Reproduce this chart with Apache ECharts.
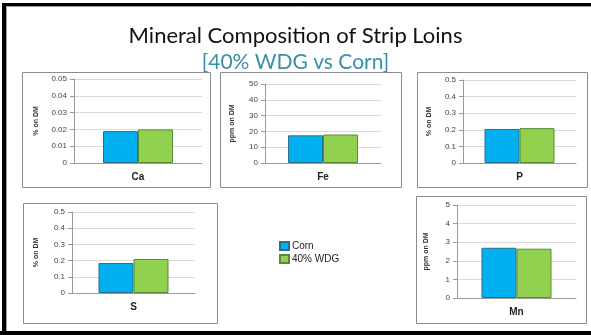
<!DOCTYPE html>
<html>
<head>
<meta charset="utf-8">
<script src="https://cdn.jsdelivr.net/npm/echarts@6/dist/echarts.min.js"></script>
<style>
  html, body { margin: 0; padding: 0; background: #fff; }
  #chart { width: 591px; height: 335px; }
</style>
</head>
<body>
<div id="chart"></div>
<script>
// Mineral content of strip loins, corn vs 40% wet distillers grains
const minerals   = ['Ca', 'Fe', 'P', 'S', 'Mn'];
const cornValues = [0.019, 17.5, 0.205, 0.185, 2.7];
const wdgValues  = [0.020, 18.0, 0.21, 0.21, 2.65];
const axisMax    = [0.05, 50, 0.5, 0.5, 5];
const axisStep   = [0.01, 10, 0.1, 0.1, 1];
const unitLabels = ['% on DM', 'ppm on DM', '% on DM', '% on DM', 'ppm on DM'];
const seriesNames = ['Corn', '40% WDG'];

// Panel frames and plot areas (pixels)
const layout = [
  { box: [22, 72, 188, 115],  grid: [74, 79, 128, 84],  nameGap: 34 },
  { box: [220, 72, 181, 115], grid: [265, 84, 116, 79], nameGap: 29 },
  { box: [417, 72, 170, 115], grid: [463, 80, 113, 83], nameGap: 30 },
  { box: [23, 203, 194, 120], grid: [72, 212, 123, 81], nameGap: 32 },
  { box: [416, 196, 170, 127], grid: [457, 205, 119, 93], nameGap: 27 }
];

const BLUE = '#00B0F0', GREEN = '#92D050';
const FONT = 'Liberation Sans, Arial, sans-serif';

const grids = [], xAxes = [], yAxes = [], series = [], graphics = [];

// slide frame
graphics.push(
  { type: 'rect', shape: { x: 2, y: 3, width: 589, height: 3 }, style: { fill: '#000' }, silent: true },
  { type: 'rect', shape: { x: 2, y: 3, width: 4, height: 332 }, style: { fill: '#000' }, silent: true },
  { type: 'rect', shape: { x: 0, y: 331, width: 591, height: 4 }, style: { fill: '#000' }, silent: true },
  { type: 'line', shape: { x1: 6, y1: 6.5, x2: 591, y2: 6.5 }, style: { stroke: '#9a9a9a', lineWidth: 1 }, silent: true },
  { type: 'line', shape: { x1: 6.5, y1: 6, x2: 6.5, y2: 331 }, style: { stroke: '#9a9a9a', lineWidth: 1 }, silent: true }
);

minerals.forEach((m, i) => {
  const L = layout[i];
  graphics.push({
    type: 'rect',
    shape: { x: L.box[0] + 0.5, y: L.box[1] + 0.5, width: L.box[2], height: L.box[3] },
    style: { fill: 'none', stroke: '#8c8c8c', lineWidth: 1 },
    silent: true, z: -1
  });
  grids.push({ left: L.grid[0], top: L.grid[1], width: L.grid[2], height: L.grid[3], containLabel: false });
  xAxes.push({
    type: 'category', gridIndex: i, data: [m],
    axisLine: { lineStyle: { color: '#9a9a9a', width: 1 } },
    axisTick: { show: false },
    axisLabel: { fontFamily: FONT, fontSize: 10, fontWeight: 'bold', color: '#222', margin: 9 }
  });
  yAxes.push({
    type: 'value', gridIndex: i, min: 0, max: axisMax[i], interval: axisStep[i],
    name: unitLabels[i], nameLocation: 'middle', nameRotate: 90, nameGap: L.nameGap,
    nameTextStyle: { fontFamily: FONT, fontSize: 7, fontWeight: 'bold', color: '#333' },
    axisLine: { show: true, lineStyle: { color: '#9a9a9a', width: 1 } },
    axisTick: { show: true, length: 4, lineStyle: { color: '#9a9a9a' } },
    axisLabel: { fontFamily: FONT, fontSize: 8, color: '#444', margin: 7 },
    splitLine: { lineStyle: { color: '#d9d9d9', width: 1 } }
  });
  [cornValues, wdgValues].forEach((vals, k) => {
    series.push({
      type: 'bar', name: seriesNames[k], xAxisIndex: i, yAxisIndex: i,
      data: [vals[i]], barWidth: 35, barGap: '0%',
      itemStyle: {
        color: k === 0 ? BLUE : GREEN,
        borderColor: k === 0 ? '#2b6f8a' : '#5b8a34',
        borderWidth: 1
      },
      emphasis: { disabled: true }
    });
  });
});

const chart = echarts.init(document.getElementById('chart'), null, { renderer: 'canvas' });
chart.setOption({
  animation: false,
  backgroundColor: '#fff',
  title: [
    { text: 'Mineral Composition of Strip Loins', left: 'center', top: 20,
      textStyle: { fontFamily: 'Lato, Open Sans, sans-serif', fontSize: 22, fontWeight: 'normal', color: '#111' } },
    { text: '[40% WDG vs Corn]', left: 'center', top: 47,
      textStyle: { fontFamily: 'Lato, Open Sans, sans-serif', fontSize: 21, fontWeight: 'normal', color: '#3A8FA6' } }
  ],
  legend: {
    data: seriesNames, orient: 'vertical', left: 274, top: 236,
    itemWidth: 9, itemHeight: 8, itemGap: 3,
    icon: 'rect',
    textStyle: { fontFamily: FONT, fontSize: 10, color: '#222', padding: [0, 0, 0, -2] }
  },
  grid: grids, xAxis: xAxes, yAxis: yAxes, series: series,
  graphic: graphics
});
</script>
</body>
</html>
